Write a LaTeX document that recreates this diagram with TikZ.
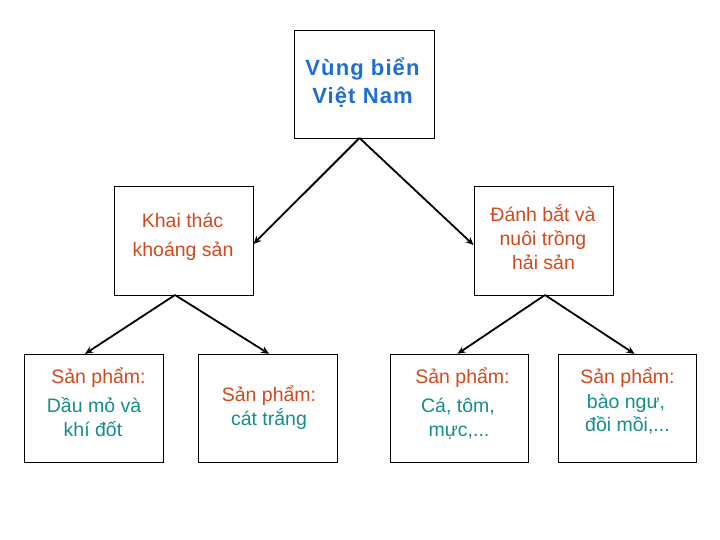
\documentclass[tikz,border=0pt]{standalone}
\usepackage{fontspec}
\setmainfont{Liberation Sans}
\usetikzlibrary{arrows.meta}
\definecolor{tblue}{RGB}{30,110,215}
\definecolor{torange}{RGB}{212,72,30}
\definecolor{tteal}{RGB}{22,140,140}
\tikzset{
  box/.style={draw=black, line width=0.9pt, fill=white, rectangle, inner sep=0pt},
  txt/.style={anchor=base, inner sep=0pt, font=\fontsize{19.5}{20}\selectfont},
  ttl/.style={anchor=base, inner sep=0pt, font=\fontsize{22}{22}\selectfont\bfseries\addfontfeature{LetterSpace=5}, text=tblue},
  conn/.style={draw=black, line width=1.8pt, -{Stealth[length=8pt,width=7pt]}}
}
\begin{document}
\begin{tikzpicture}[x=1pt,y=-1pt]
\useasboundingbox (0,0) rectangle (720,540);
\fill[white] (0,0) rectangle (720,540);
% boxes
\node[box, minimum width=140pt, minimum height=108pt] (top) at (364,84) {};
\node[box, minimum width=139pt, minimum height=109pt] (ml) at (183.5,240.5) {};
\node[box, minimum width=139pt, minimum height=109pt] (mr) at (543.5,240.5) {};
\node[box, minimum width=139pt, minimum height=108pt] (b1) at (93.7,408.3) {};
\node[box, minimum width=139pt, minimum height=108pt] (b2) at (268.3,408.3) {};
\node[box, minimum width=138pt, minimum height=108pt] (b3) at (459.7,408.3) {};
\node[box, minimum width=138pt, minimum height=108pt] (b4) at (627.8,408.3) {};
% texts
\node[ttl] (t1) at (362.5,76) {Vùng biển};
\node[ttl] (t2) at (362.5,103.5) {Việt Nam};
\node[txt, text=torange] (ml1) at (182.5,227.5) {Khai thác};
\node[txt, text=torange] (ml2) at (183,256) {khoáng sản};
\node[txt, text=torange] (mr1) at (543,221.7) {Đánh bắt và};
\node[txt, text=torange] (mr2) at (543,245) {nuôi trồng};
\node[txt, text=torange] (mr3) at (543.5,269.3) {hải sản};
\node[txt, text=torange] (b1a) at (98.5,383.3) {Sản phẩm:};
\node[txt, text=tteal] (b1b) at (94,412.5) {Dầu mỏ và};
\node[txt, text=tteal] (b1c) at (93,436) {khí đốt};
\node[txt, text=torange] (b2a) at (269,401.7) {Sản phẩm:};
\node[txt, text=tteal] (b2b) at (269,425) {cát trắng};
\node[txt, text=torange] (b3a) at (462.5,383.3) {Sản phẩm:};
\node[txt, text=tteal] (b3b) at (458,412.7) {Cá, tôm,};
\node[txt, text=tteal] (b3c) at (459,436.7) {mực,...};
\node[txt, text=torange] (b4a) at (627.5,383.3) {Sản phẩm:};
\node[txt, text=tteal] (b4b) at (626,408.3) {bào ngư,};
\node[txt, text=tteal] (b4c) at (627.5,431.7) {đồi mồi,...};
% connectors
\coordinate (ts) at (359.5,138);
\coordinate (mls) at (175,295);
\coordinate (mrs) at (545,295);
\draw[conn] (ts) -- (ml.east |- 0,244);
\draw[conn] (ts) -- (mr.west |- 0,245);
\draw[conn] (mls) -- (b1.north -| 85,0);
\draw[conn] (mls) -- (b2.north -| 269,0);
\draw[conn] (mrs) -- (b3.north -| 457.5,0);
\draw[conn] (mrs) -- (b4.north -| 634.5,0);
\end{tikzpicture}
\end{document}
